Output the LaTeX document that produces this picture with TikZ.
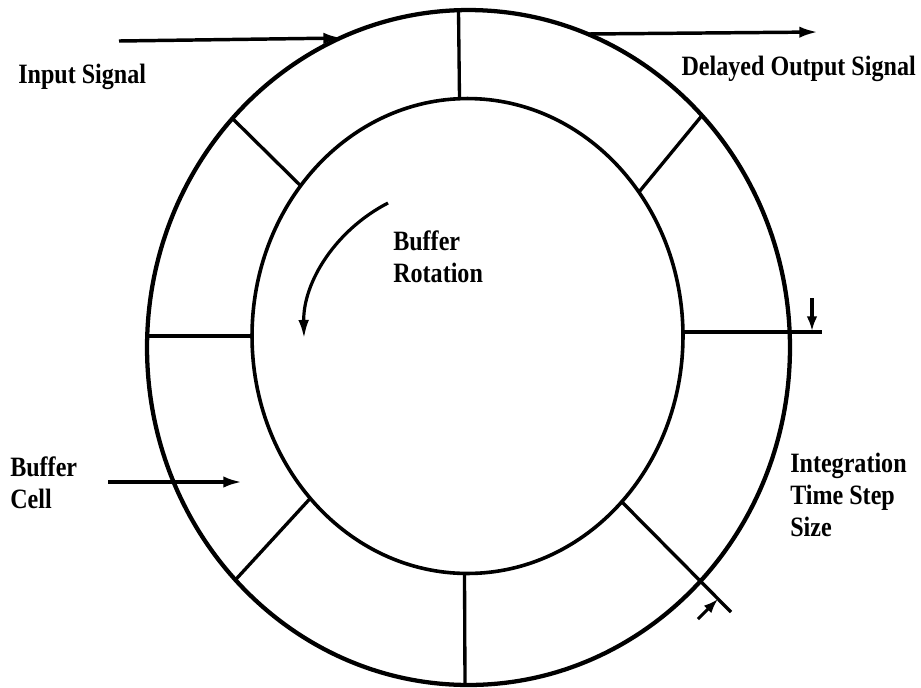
\documentclass[tikz,border=0pt]{standalone}
\usepackage{fontspec}
\setmainfont{Liberation Serif}
% narrow, tall bold face for the labels
\newfontfamily\lblfont[FakeStretch=0.86]{Liberation Serif}
\usetikzlibrary{arrows.meta}

\begin{document}
\begin{tikzpicture}[x=0.75pt,y=-0.75pt,
  outerring/.style={line width=3.2pt},
  innerring/.style={line width=2.7pt},
  cellwall/.style={line width=2.5pt},
  pointer/.style={line width=2.6pt,-{Latex[length=14pt,width=8.5pt]}},
  tick/.style={line width=2.3pt,-{Latex[length=11pt,width=8pt]}},
  lbl/.style={inner sep=0pt,anchor=west,align=left,
    font=\lblfont\fontsize{21}{24}\selectfont\bfseries}]
\useasboundingbox (0,0) rectangle (921,687);

% the two rings of the circular buffer
\draw[outerring] (468.5,347.5) ellipse [x radius=241.1pt, y radius=253.1pt];
\draw[innerring] (467.5,336) ellipse [x radius=161.6pt, y radius=178.1pt];

% cell boundaries, outer ring end -> inner ring end
\coordinate (tO) at (458.5,10.5);  \coordinate (tI) at (459.5,98.5);
\coordinate (ulO) at (232,118);    \coordinate (ulI) at (300.6,185.7);
\coordinate (urO) at (702,115.5);  \coordinate (urI) at (639,192);
\coordinate (lO) at (147.2,336);   \coordinate (lI) at (252,336);
\coordinate (rI) at (683,332);     \coordinate (rE) at (822,332);
\coordinate (llO) at (235.3,580);  \coordinate (llI) at (310.2,498.4);
\coordinate (lrI) at (621.8,501.8); \coordinate (lrE) at (731,612);
\coordinate (bI) at (464.5,573.5); \coordinate (bO) at (465,685);

\foreach \a/\b in {tO/tI,ulO/ulI,urO/urI,lO/lI,rI/rE,llO/llI,lrI/lrE,bI/bO}
  \draw[cellwall] (\a) -- (\b);

% signal in and out
\coordinate (inS) at (119,41);   \coordinate (inT) at (342,38);
\coordinate (outS) at (588,34);  \coordinate (outT) at (818,32);
\draw[pointer] (inS) -- (inT);
\draw[pointer] (outS) -- (outT);

% pointer to one buffer cell
\coordinate (cellS) at (108,482); \coordinate (cellT) at (242,482);
\draw[pointer] (cellS) -- (cellT);

% markers of the time step size
\coordinate (dsS) at (812,298); \coordinate (dsT) at (812,331);
\draw[tick] (dsS) -- (dsT);
\coordinate (dlS) at (698,619); \coordinate (dlT) at (718,599);
\draw[tick] (dlS) -- (dlT);

% direction of rotation
\coordinate (rotS) at (388,203);
\draw[line width=2.4pt,-{Latex[length=14pt,width=8pt]}]
  (rotS) arc[start angle=119, end angle=181, x radius=122.3pt, y radius=114pt];

% labels
\node[lbl] (lin) at (18,77) {Input Signal};
\node[lbl,anchor=east] (lout) at (916,69) {Delayed Output Signal};
\node[lbl] (lrot) at (393,257) {Buffer\\Rotation};
\node[lbl] (lstep) at (790,495) {Integration\\Time Step\\Size};
\node[lbl] (lcell) at (10,483) {Buffer\\Cell};
\end{tikzpicture}
\end{document}
